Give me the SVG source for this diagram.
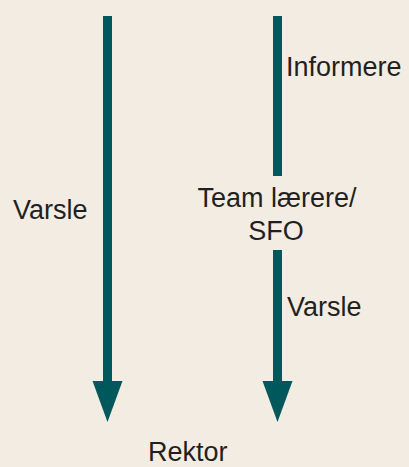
<svg xmlns="http://www.w3.org/2000/svg" width="409" height="467" viewBox="0 0 409 467">
<style>
.lbl{font-family:"Liberation Sans",Arial,sans-serif;font-size:27px;fill:#231f20}
.shaft{stroke:#00585c;stroke-width:9;fill:none}
.head{fill:#00585c}
</style>
<rect width="409" height="467" fill="#f3ece2"/>
<g id="connectors">
<line class="shaft" x1="107.5" y1="16" x2="107.5" y2="383"/>
<polygon class="head" points="92.5,381 122.5,381 107.5,422"/>
<line class="shaft" x1="277.5" y1="16" x2="277.5" y2="176"/>
<line class="shaft" x1="277.5" y1="250" x2="277.5" y2="383"/>
<polygon class="head" points="262.5,381 292.5,381 277.5,422"/>
</g>
<g id="label-informere"><text class="lbl" x="286" y="76">Informere</text></g>
<g id="label-varsle-left"><text class="lbl" x="13" y="219">Varsle</text></g>
<g id="node-team"><text class="lbl" x="277" y="207" text-anchor="middle">Team lærere/</text><text class="lbl" x="276" y="240" text-anchor="middle">SFO</text></g>
<g id="label-varsle-right"><text class="lbl" x="287" y="316">Varsle</text></g>
<g id="node-rektor"><text class="lbl" x="148" y="461">Rektor</text></g>
</svg>
